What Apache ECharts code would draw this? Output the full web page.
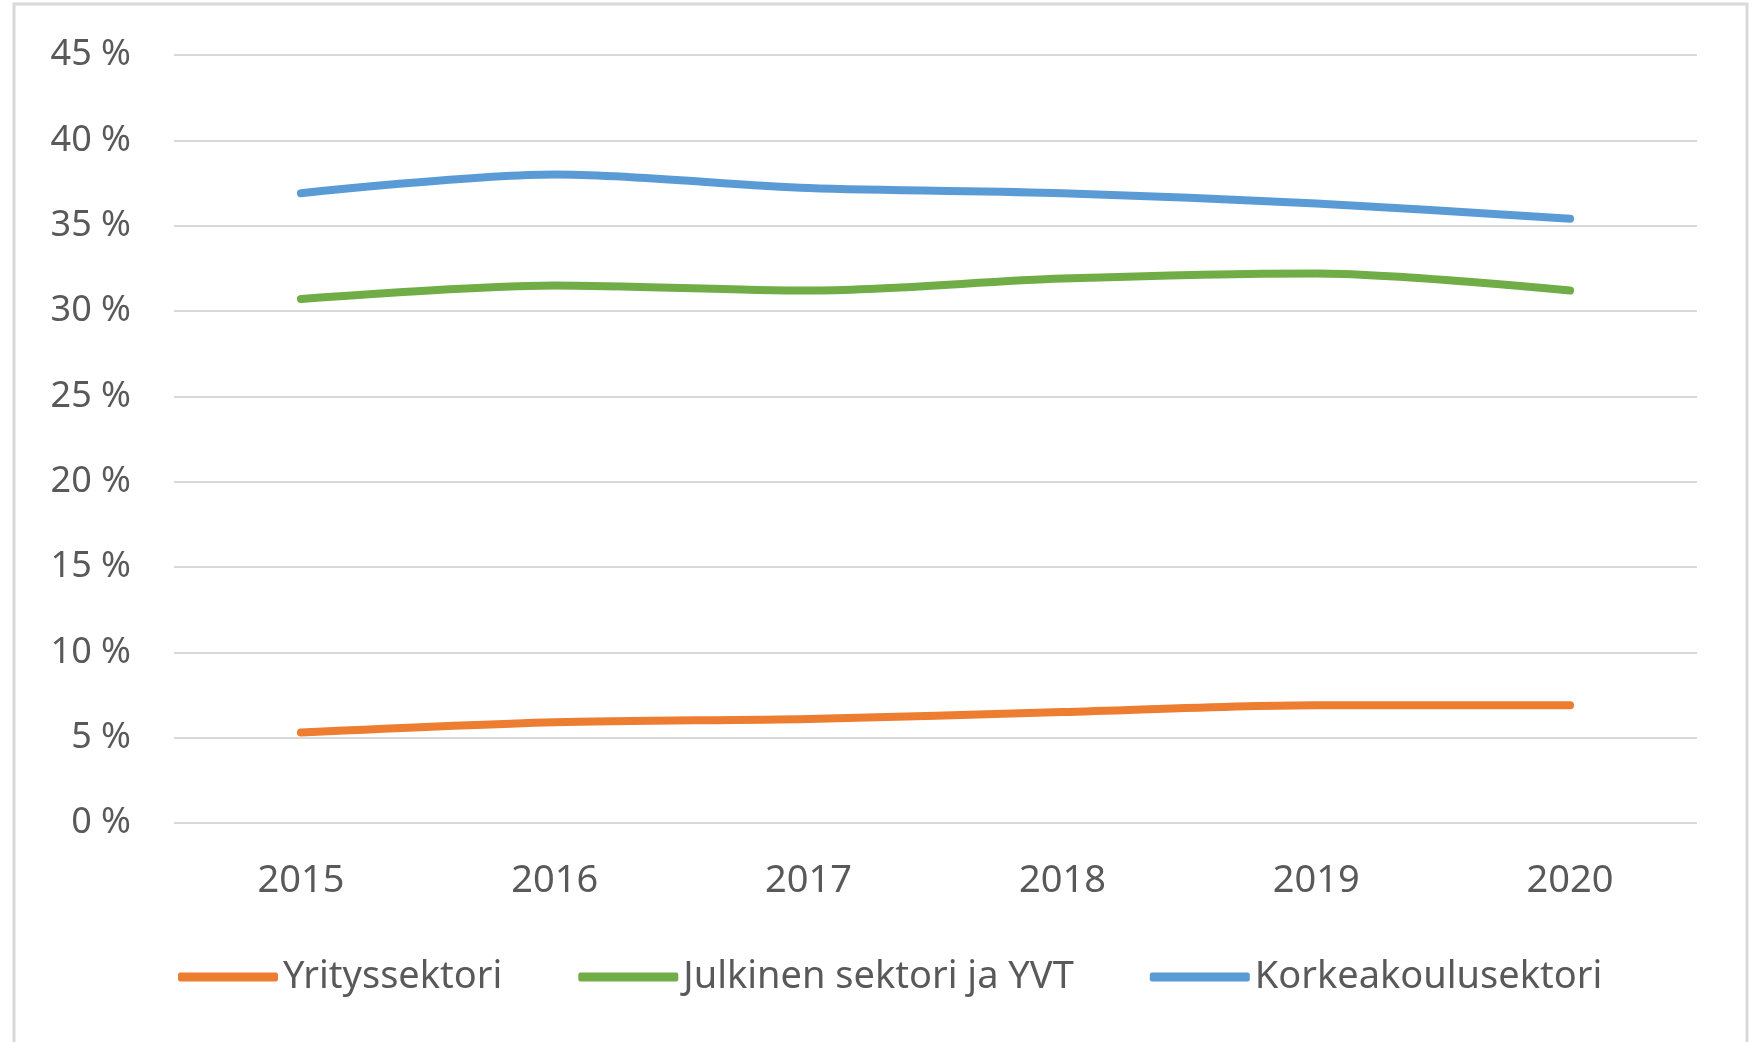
<!DOCTYPE html>
<html>
<head>
<meta charset="utf-8">
<script src="https://cdn.jsdelivr.net/npm/echarts@6/dist/echarts.min.js"></script>
<style>
html,body{margin:0;padding:0;background:#fff;}
#c{width:1762px;height:1042px;}
</style>
</head>
<body>
<div id="c"></div>
<script>
const years = ['2015','2016','2017','2018','2019','2020'];
const seriesNames = ['Yrityssektori','Julkinen sektori ja YVT','Korkeakoulusektori'];
const yritys = [5.3, 5.9, 6.1, 6.5, 6.9, 6.9];
const julkinen = [30.7, 31.5, 31.2, 31.9, 32.2, 31.2];
const korkea = [36.9, 38.0, 37.2, 36.9, 36.3, 35.4];
const colors = ['#ED7D31','#70AD47','#5B9BD5'];

const chart = echarts.init(document.getElementById('c'));
const font = 'Noto Sans';
function mk(name, data, color){
  return {
    name: name, type: 'line', data: data, smooth: 0.3,
    symbol: 'none', lineStyle: {color: color, width: 8, cap: 'round', join: 'round'},
    itemStyle: {color: color}
  };
}
chart.setOption({
  animation: false,
  backgroundColor: '#fff',
  graphic: [{
    type: 'rect', shape: {x: 14, y: 4, width: 1733, height: 1100},
    style: {fill: 'none', stroke: '#D9D9D9', lineWidth: 3}, silent: true
  }],
  grid: {left: 174, right: 65, top: 55, bottom: 219},
  legend: {
    data: seriesNames,
    left: 173, top: 953,
    icon: 'roundRect', itemWidth: 100, itemHeight: 9, itemGap: 76,
    textStyle: {color: '#595959', fontFamily: font, fontSize: 38}
  },
  xAxis: {
    type: 'category', data: years, boundaryGap: true,
    axisLine: {show: false}, axisTick: {show: false},
    axisLabel: {color: '#595959', fontFamily: font, fontSize: 38, margin: 39}
  },
  yAxis: {
    type: 'value', min: 0, max: 45, interval: 5,
    axisLine: {show: false}, axisTick: {show: false},
    splitLine: {lineStyle: {color: '#D9D9D9', width: 2}},
    axisLabel: {color: '#595959', fontFamily: font, fontSize: 36, margin: 43,
      formatter: v => v + ' %'}
  },
  series: [mk(seriesNames[0], yritys, colors[0]), mk(seriesNames[1], julkinen, colors[1]), mk(seriesNames[2], korkea, colors[2])]
});
</script>
</body>
</html>
